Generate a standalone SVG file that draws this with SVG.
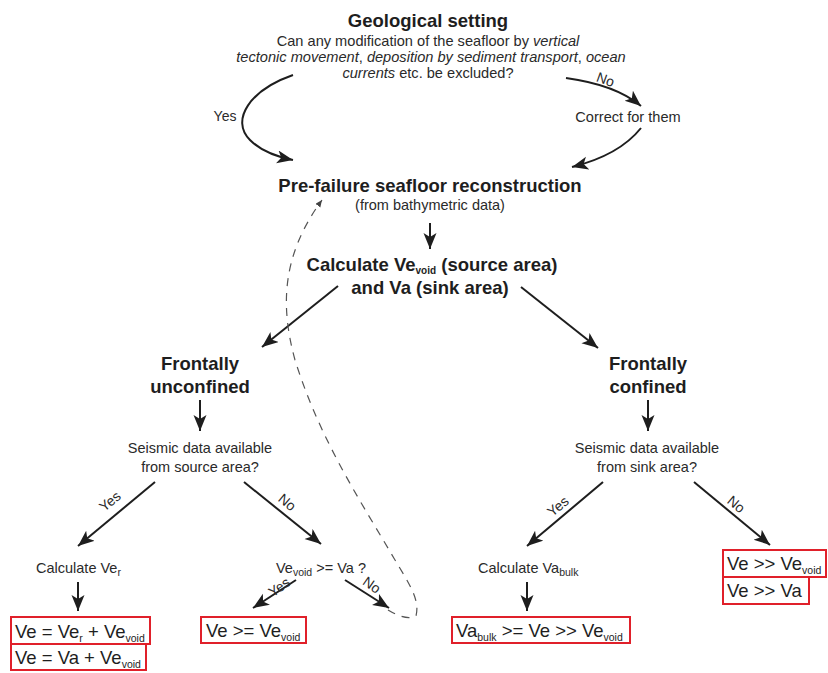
<svg xmlns="http://www.w3.org/2000/svg" width="828" height="673" viewBox="0 0 828 673">
<style>
text{font-family:"Liberation Sans",Arial,sans-serif;fill:#2a2a2a}
.h{font-weight:bold;font-size:18.5px;text-anchor:middle;fill:#1e1e1e}
.b{font-size:14.6px;text-anchor:middle}
.s{font-size:14.5px;text-anchor:middle}
.l{font-size:14.5px}
.y{font-size:14px}
.r{font-size:18.5px;fill:#1e1e1e}
.sub{font-size:10.5px}
.hs{font-size:10px}
.a{fill:none;stroke:#1e1e1e;stroke-width:2}
.d{fill:none;stroke:#555;stroke-width:1.2;stroke-dasharray:8 7}
.box{fill:none;stroke:#e0202a;stroke-width:2}
</style>
<defs>
<marker id="ah" markerUnits="userSpaceOnUse" markerWidth="18" markerHeight="14" refX="16" refY="6.5" orient="auto">
<path d="M0,0 L16,6.5 L0,13 L4,6.5 Z" fill="#1e1e1e"/>
</marker>
<marker id="ahs" markerUnits="userSpaceOnUse" markerWidth="8" markerHeight="8" refX="7" refY="3" orient="auto">
<path d="M0,0 L7,3 L0,6 Z" fill="#444"/>
</marker>
</defs>
<g id="connectors">
<path class="a" d="M293,75 C250,90 230,120 250,140 C262,152 278,157 293,160" marker-end="url(#ah)"/>
<path class="a" d="M566,78 C595,82 622,90 641,106" marker-end="url(#ah)"/>
<path class="a" d="M641,128 C625,148 600,160 572,167" marker-end="url(#ah)"/>
<path class="a" d="M430,223 L430,249" marker-end="url(#ah)"/>
<path class="a" d="M338,286 L262,347" marker-end="url(#ah)"/>
<path class="a" d="M521,287 L598,348" marker-end="url(#ah)"/>
<path class="a" d="M200,400 L200,431" marker-end="url(#ah)"/>
<path class="a" d="M648,400 L648,431" marker-end="url(#ah)"/>
<path class="a" d="M155,482 L78,546" marker-end="url(#ah)"/>
<path class="a" d="M244,482 L321,544" marker-end="url(#ah)"/>
<path class="a" d="M603,482 L527,546" marker-end="url(#ah)"/>
<path class="a" d="M694,482 L770,545" marker-end="url(#ah)"/>
<path class="a" d="M78,582 L78,611" marker-end="url(#ah)"/>
<path class="a" d="M296,580 L253,608" marker-end="url(#ah)"/>
<path class="a" d="M345,580 L389,608" marker-end="url(#ah)"/>
<path class="a" d="M527,582 L527,611" marker-end="url(#ah)"/>
<path class="d" d="M388,610 C398,616 408,620 416,616 C420,600 410,585 395,560 C360,500 320,440 295,360 C280,305 282,255 322,200" marker-end="url(#ahs)"/>
<text class="y" x="225" y="121" text-anchor="middle">Yes</text>
<text class="y" transform="translate(604,84) rotate(20)" text-anchor="middle">No</text>
<text class="y" transform="translate(113,505) rotate(-40)" text-anchor="middle">Yes</text>
<text class="y" transform="translate(284,506) rotate(40)" text-anchor="middle">No</text>
<text class="y" transform="translate(561,510) rotate(-40)" text-anchor="middle">Yes</text>
<text class="y" transform="translate(733,508) rotate(40)" text-anchor="middle">No</text>
<text class="y" transform="translate(282,591) rotate(-35)" text-anchor="middle">Yes</text>
<text class="y" transform="translate(369,589) rotate(35)" text-anchor="middle">No</text>
</g>
<g id="geological-setting">
<text class="h" x="428" y="27">Geological setting</text>
<text class="b" x="428" y="46">Can any modification of the seafloor by <tspan font-style="italic">vertical</tspan></text>
<text class="b" x="431" y="62"><tspan font-style="italic">tectonic movement</tspan>, <tspan font-style="italic">deposition by sediment transport</tspan>, <tspan font-style="italic">ocean</tspan></text>
<text class="b" x="428" y="78"><tspan font-style="italic">currents</tspan> etc. be excluded?</text>
</g>
<g id="correct-for-them">
<text class="b" x="628" y="122">Correct for them</text>
</g>
<g id="pre-failure">
<text class="h" x="430" y="192">Pre-failure seafloor reconstruction</text>
<text class="s" x="430" y="210">(from bathymetric data)</text>
</g>
<g id="calculate-volumes">
<text class="h" x="432" y="271">Calculate Ve<tspan class="hs" dy="3">void</tspan><tspan dy="-3"> (source area)</tspan></text>
<text class="h" x="430" y="294">and Va (sink area)</text>
</g>
<g id="frontally-unconfined">
<text class="h" x="200" y="370">Frontally</text>
<text class="h" x="200" y="393">unconfined</text>
</g>
<g id="frontally-confined">
<text class="h" x="648" y="370">Frontally</text>
<text class="h" x="648" y="393">confined</text>
</g>
<g id="seismic-source">
<text class="s" x="200" y="453">Seismic data available</text>
<text class="s" x="200" y="472">from source area?</text>
</g>
<g id="seismic-sink">
<text class="s" x="647" y="453">Seismic data available</text>
<text class="s" x="647" y="472">from sink area?</text>
</g>
<g id="calculate-ver">
<text class="l" x="36" y="573">Calculate Ve<tspan class="sub" dy="3">r</tspan></text>
</g>
<g id="vevoid-va">
<text class="l" x="276" y="573">Ve<tspan class="sub" dy="3">void</tspan><tspan dy="-3"> &gt;= Va ?</tspan></text>
</g>
<g id="calculate-vabulk">
<text class="l" x="478" y="573">Calculate Va<tspan class="sub" dy="3">bulk</tspan></text>
</g>
<g id="result-ve-ver">
<rect class="box" x="11" y="617" width="139" height="27"/>
<text class="r" x="15" y="638">Ve = Ve<tspan class="sub" dy="4">r</tspan><tspan dy="-4"> + Ve</tspan><tspan class="sub" dy="4">void</tspan></text>
</g>
<g id="result-ve-va">
<rect class="box" x="11" y="644" width="135" height="26"/>
<text class="r" x="15" y="664">Ve = Va + Ve<tspan class="sub" dy="4">void</tspan></text>
</g>
<g id="result-ve-ge">
<rect class="box" x="201" y="617" width="105" height="26"/>
<text class="r" x="206" y="637">Ve &gt;= Ve<tspan class="sub" dy="4">void</tspan></text>
</g>
<g id="result-vabulk">
<rect class="box" x="452" y="617" width="178" height="26"/>
<text class="r" x="456" y="637">Va<tspan class="sub" dy="4">bulk</tspan><tspan dy="-4"> &gt;= Ve &gt;&gt; Ve</tspan><tspan class="sub" dy="4">void</tspan></text>
</g>
<g id="result-ve-gg-vevoid">
<rect class="box" x="723" y="550" width="103" height="27"/>
<text class="r" x="727" y="570">Ve &gt;&gt; Ve<tspan class="sub" dy="4">void</tspan></text>
</g>
<g id="result-ve-gg-va">
<rect class="box" x="723" y="577" width="86" height="27"/>
<text class="r" x="727" y="597">Ve &gt;&gt; Va</text>
</g>
</svg>
